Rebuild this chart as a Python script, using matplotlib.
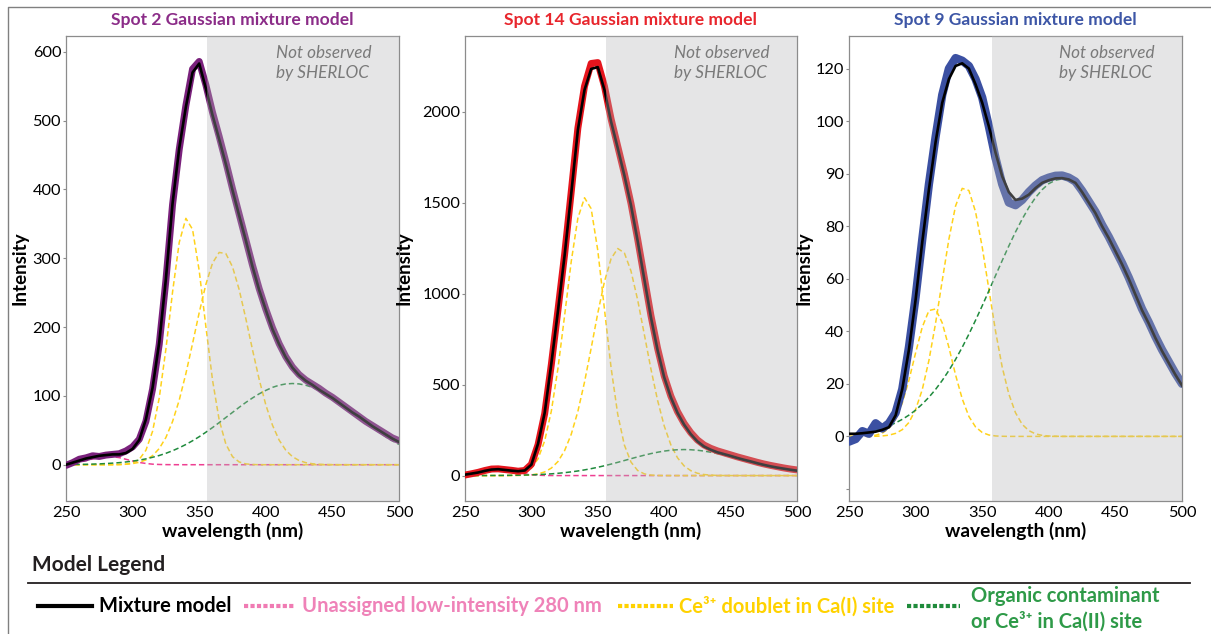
import numpy as np
import matplotlib.pyplot as plt

plt.rcParams['font.family'] = ['Lato', 'DejaVu Sans']

W, H = 1211, 634

# wavelength grid (nm) shared by all spectra
wavelength = np.arange(250, 505, 5)

# Spot 2
spot2_measured = [-1, 3, 8, 10, 13, 12, 14, 15, 16, 20,
                  26, 37, 63, 110, 175, 268, 378, 458, 522, 575,
                  586, 552, 512, 477, 440, 401, 364, 327, 290, 256,
                  226, 199, 176, 157, 142, 131, 123, 117, 111, 104,
                  98, 91, 84, 77, 70, 63, 57, 51, 45, 39, 35]
spot2_mixture = [0, 3, 6, 9, 11, 13, 14, 15, 15, 17,
                 23, 36, 66, 112, 178, 270, 380, 460, 520, 570,
                 583, 547, 508, 473, 437, 399, 362, 326, 288, 254,
                 225, 197, 175, 156, 141, 130, 122, 116, 109, 103,
                 97, 90, 83, 76, 70, 63, 56, 50, 44, 38, 33]
spot2_unassigned = [1.0, 2.0, 3.7, 5.9, 8.4, 10.6, 11.9, 11.7, 10.3, 7.9,
                    5.4, 3.3, 1.8, 0.8, 0.35, 0.13, 0.04] + [0] * 34
spot2_ce_a = [0] * 8 + [0.2, 0.7, 2.5, 7.8, 21, 48.6, 97, 168, 251, 323,
                        358, 342, 282, 201, 123, 65, 30, 11.7, 4, 1.2, 0.3] + [0] * 22
spot2_ce_b = [0] * 6 + [0.05, 0.12, 0.3, 0.73, 1.6, 3.5, 7, 13.2, 23.5, 39.6,
                        62.8, 93.8, 132.4, 176, 221, 262, 293, 308.5, 306.8, 287.6,
                        254.5, 212.4, 167.2, 124.2, 87, 57.5, 35.8, 21.1, 11.7, 6.1,
                        3, 1.4, 0.6, 0.26, 0.1] + [0] * 10
spot2_organic = [0.2, 0.3, 0.5, 0.6, 0.9, 1.2, 1.7, 2.3, 3.0, 4.0,
                 5.2, 6.7, 8.5, 10.8, 13.4, 16.6, 20.3, 24.6, 29.4, 34.8,
                 40.7, 47.2, 54.0, 61.2, 68.6, 76.0, 83.4, 90.5, 97.0, 103.0,
                 108.0, 112.4, 115.5, 117.4, 118.0, 117.4, 115.5, 112.4, 108.0, 103.0,
                 97.0, 90.5, 83.4, 76.0, 68.6, 61.2, 54.0, 47.2, 40.7, 34.8, 29.4]

# Spot 14
spot14_measured = [3, 10, 18, 28, 36, 37, 33, 29, 24, 28,
                   62, 170, 340, 610, 910, 1215, 1560, 1910, 2140, 2265,
                   2270, 2140, 1960, 1810, 1660, 1495, 1300, 1090, 880, 700,
                   548, 437, 352, 287, 236, 196, 168, 150, 136, 125,
                   114, 103, 93, 83, 73, 64, 56, 49, 42, 36, 31]
spot14_mixture = [5, 11, 17, 26, 33, 35, 31, 27, 24, 28,
                  60, 175, 345, 615, 905, 1210, 1550, 1900, 2120, 2235,
                  2245, 2120, 1945, 1800, 1650, 1485, 1290, 1080, 870, 690,
                  540, 430, 345, 280, 228, 188, 160, 142, 128, 118,
                  108, 97, 87, 78, 68, 59, 51, 44, 38, 32, 27]
spot14_unassigned = [6.2, 11.7, 19.0, 26.8, 32.4, 33.9, 30.6, 23.8, 16.0, 9.2,
                     4.6, 2.0, 0.7, 0.2] + [0] * 37
spot14_ce_a = [0] * 6 + [0.3, 1.7, 5.5, 15.7, 40, 92.5, 191, 354, 589, 879,
                         1177, 1415, 1527, 1467, 1237, 915, 593, 337, 168, 74,
                         28, 9.5, 2.8, 0.7, 0.15] + [0] * 20
spot14_ce_b = [0] * 7 + [0.2, 0.6, 1.6, 4, 9.4, 20, 41, 77, 137, 227,
                         353, 514, 700, 893, 1066, 1192, 1248, 1224, 1124, 966,
                         777, 586, 414, 273, 169, 98, 53, 27, 12.8, 5.7,
                         2.4, 0.9, 0.3] + [0] * 11
spot14_organic = [0.09, 0.14, 0.21, 0.33, 0.48, 0.71, 1.03, 1.48, 2.09, 2.9,
                  4.0, 5.4, 7.3, 9.6, 12.5, 16, 20.3, 25.3, 31.2, 38,
                  45.6, 54, 63.1, 72.7, 82.7, 92.8, 102.7, 112.1, 120.8, 128.3,
                  134.6, 139.2, 142, 143, 142, 139.2, 134.6, 128.3, 120.8, 112.1,
                  102.7, 92.8, 82.7, 72.7, 63.1, 54, 45.6, 38, 31.2, 25.3, 20.3]

# Spot 9 (values in axis position units, see tick labels below)
spot9_measured = [-2, -1, 2, 1, 5, 3, 5, 9, 18, 34,
                  53, 75, 96, 114, 130, 140, 144, 143, 141, 136,
                  129, 118, 106, 96, 89, 88, 90, 93, 95.5, 97.5,
                  98.5, 99.2, 99.3, 98.5, 97, 93.5, 89.5, 85.5, 80.5, 76,
                  71, 66, 60.5, 54.5, 48.5, 43.5, 38, 33, 28.5, 24, 20]
spot9_mixture = [1, 1, 1.2, 1.5, 1.8, 2.5, 3.5, 8, 18, 33,
                 52, 74, 94, 112, 127, 136, 141, 142, 140, 134,
                 127, 118, 108, 99, 93, 90, 90.5, 92, 94.5, 96.5,
                 97.5, 98.2, 98.3, 97.8, 96.5, 93, 89, 85, 80, 75.5,
                 70.5, 65.5, 60, 54, 48, 43, 37.5, 32.5, 28, 23.5, 19.4]
spot9_ce_a = [0, 0, 0.04, 0.14, 0.44, 1.24, 3.05, 6.6, 12.7, 21.4,
              31.8, 41.6, 47.9, 48.5, 43.2, 33.9, 23.4, 14.3, 7.6, 3.6,
              1.5, 0.54, 0.17, 0.05] + [0] * 27
spot9_ce_b = [0, 0, 0, 0, 0.06, 0.18, 0.47, 1.15, 2.57, 5.3,
              10.2, 17.8, 28.9, 43.1, 59.3, 75.1, 87.7, 94.4, 93.6, 85.5,
              72.1, 56.0, 40.1, 26.4, 16.1, 9.0, 4.6, 2.2, 0.97, 0.39,
              0.15, 0.05] + [0] * 19
spot9_organic = [0.78, 1.06, 1.41, 1.86, 2.43, 3.16, 4.05, 5.15, 6.49, 8.1,
                 10.0, 12.3, 14.9, 17.9, 21.3, 25.1, 29.3, 33.9, 38.9, 44.2,
                 49.7, 55.4, 61.2, 66.9, 72.5, 77.8, 82.7, 87.1, 90.9, 93.9,
                 96.2, 97.5, 98.0, 97.5, 96.2, 93.9, 90.9, 87.1, 82.7, 77.8,
                 72.5, 66.9, 61.2, 55.4, 49.7, 44.2, 38.9, 33.9, 29.3, 25.1, 21.3]

spot9_ticks = [-20, 0, 20, 40, 60, 80, 100, 120, 140]
spot9_ticklabels = ['', '0', '20', '40', '60', '80', '90', '100', '120']

xticks = [250, 300, 350, 400, 450, 500]

PINK = '#ee3f92'
YELLOW = '#ffd21a'
GREEN = '#1f8a3c'
SPINE = '#8c8c8c'
DASH = (0, (3.5, 2))


def draw_spot(ax, title, tcolor, dcolor, measured, mixture, unassigned, ce_a, ce_b,
              organic, ylim, shade_from, data_lw=5, yticks=None, yticklabels=None, ylab_x=-0.114):
    ax.plot(wavelength, measured, color=dcolor, lw=data_lw, solid_capstyle='round', zorder=3)
    if unassigned is not None:
        ax.plot(wavelength, unassigned, color=PINK, lw=1.1, ls=DASH, zorder=2)
    ax.plot(wavelength, ce_a, color=YELLOW, lw=1.1, ls=DASH, zorder=2)
    ax.plot(wavelength, ce_b, color=YELLOW, lw=1.1, ls=DASH, zorder=2)
    ax.plot(wavelength, organic, color=GREEN, lw=1.1, ls=DASH, zorder=2)
    ax.plot(wavelength, mixture, color='black', lw=1.9, zorder=4)

    # region outside the instrument range, laid over the curves
    ax.axvspan(shade_from, 500, color='#b5b6b8', alpha=0.35, lw=0, zorder=5)
    ax.text(0.63, 0.98, 'Not observed\nby SHERLOC', transform=ax.transAxes, ha='left', va='top',
            fontsize=12.3, style='italic', color='#7a7a7a', linespacing=1.3, zorder=6)

    ax.set_xlim(250, 500)
    ax.set_ylim(*ylim)
    ax.set_xticks(xticks)
    if yticks is not None:
        ax.set_yticks(yticks)
        ax.set_yticklabels(yticklabels)
    ax.tick_params(axis='y', length=2.5, width=0.8, color=SPINE, pad=1, labelsize=11.8)
    ax.tick_params(axis='x', length=0, pad=4, labelsize=11.8)
    for s in ax.spines.values():
        s.set_color(SPINE)
        s.set_linewidth(0.9)

    ax.set_title(title, color=tcolor, fontsize=12.6, fontweight='bold', pad=8)
    ax.set_ylabel('Intensity', fontsize=13.5, fontweight='bold')
    ax.yaxis.set_label_coords(ylab_x, 0.5)
    ax.set_xlabel('wavelength (nm)', fontsize=13.8, fontweight='bold')
    ax.xaxis.set_label_coords(0.5, -0.047)


fig = plt.figure(figsize=(W / 100, H / 100), dpi=100)

def px_axes(left, right, top, bottom):
    return fig.add_axes([left / W, (H - bottom) / H, (right - left) / W, (bottom - top) / H])

ax1 = px_axes(66, 399, 36, 500.5)
ax2 = px_axes(465, 797, 36, 500.5)
ax3 = px_axes(849, 1182, 36, 500.5)

draw_spot(ax1, 'Spot 2 Gaussian mixture model', '#8b2c88', '#7a217c',
          spot2_measured, spot2_mixture, spot2_unassigned, spot2_ce_a, spot2_ce_b,
          spot2_organic, (-52, 623), 356)
draw_spot(ax2, 'Spot 14 Gaussian mixture model', '#e8262d', '#e5151d',
          spot14_measured, spot14_mixture, spot14_unassigned, spot14_ce_a, spot14_ce_b,
          spot14_organic, (-137, 2416), 356, ylab_x=-0.157)
draw_spot(ax3, 'Spot 9 Gaussian mixture model', '#3d56a6', '#3b50a2',
          spot9_measured, spot9_mixture, None, spot9_ce_a, spot9_ce_b,
          spot9_organic, (-24.4, 152.4), 357, data_lw=6,
          yticks=spot9_ticks, yticklabels=spot9_ticklabels, ylab_x=-0.111)

# overlay in pixel coordinates for frame and legend
ov = fig.add_axes([0, 0, 1, 1])
ov.set_xlim(0, W)
ov.set_ylim(H, 0)
ov.axis('off')

ov.plot([8.3, 8.3, W + 5], [H + 5, 6.7, 6.7], color='#808080', lw=1)

ov.text(32, 571, 'Model Legend', fontsize=15, fontweight='bold', color='#231f20', va='baseline')
ov.plot([28, 1190], [582.7, 582.7], color='#231f20', lw=1.3)

leg_y = 606
ov.plot([38, 92], [leg_y, leg_y], color='black', lw=3)
ov.text(99, 612.5, 'Mixture model', fontsize=14.5, fontweight='bold', color='black', va='baseline')
ov.plot([244, 295], [leg_y, leg_y], color='#f07bb3', lw=3, ls=(0, (1.0, 0.55)))
ov.text(302, 612.5, 'Unassigned low-intensity 280 nm', fontsize=14.5, fontweight='bold',
        color='#ef82b8', va='baseline')
ov.plot([618, 673], [leg_y, leg_y], color='#ffd200', lw=3, ls=(0, (1.0, 0.55)))
ov.text(679, 612.5, 'Ce³⁺ doublet in Ca(I) site', fontsize=14.5, fontweight='bold',
        color='#ffd200', va='baseline')
ov.plot([907, 960], [leg_y, leg_y], color='#1f8b3b', lw=3, ls=(0, (1.0, 0.55)))
ov.text(971, 602.5, 'Organic contaminant', fontsize=14.5, fontweight='bold',
        color='#2e9a48', va='baseline')
ov.text(971, 627.5, 'or Ce³⁺ in Ca(II) site', fontsize=14.5, fontweight='bold',
        color='#2e9a48', va='baseline')

fig.savefig('out.png', dpi=100)
